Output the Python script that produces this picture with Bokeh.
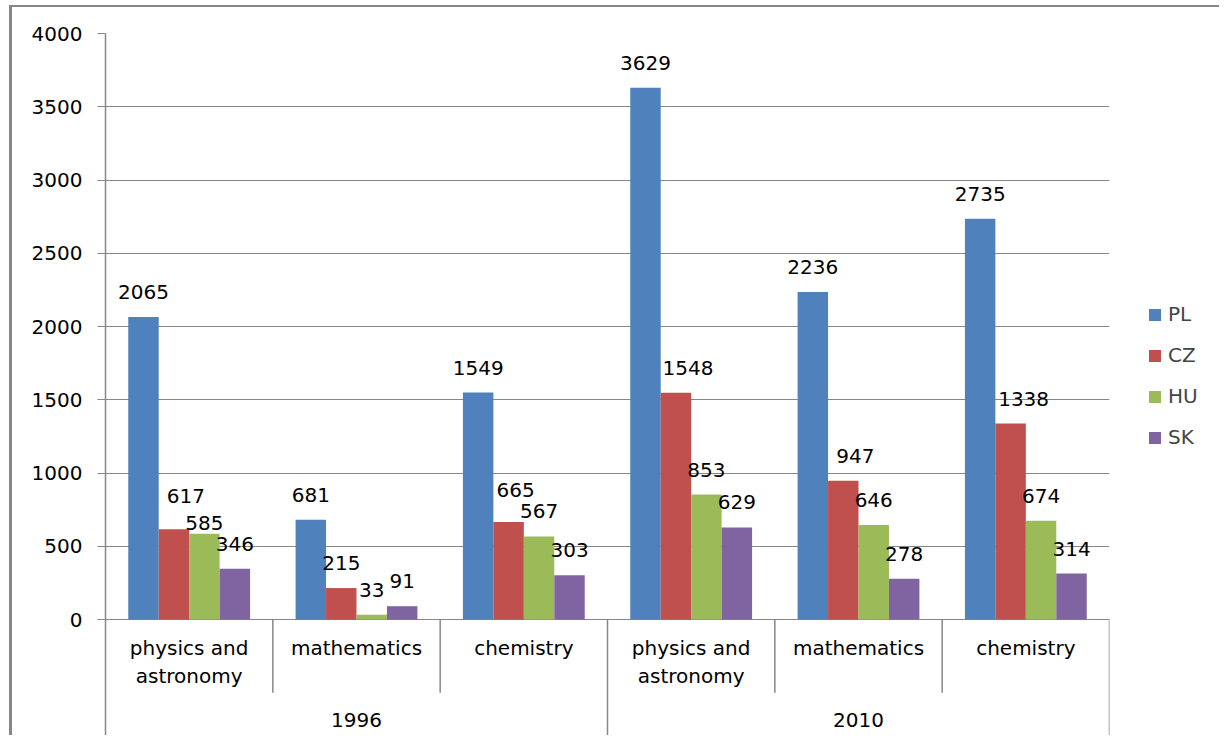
from bokeh.plotting import figure
from bokeh.layouts import row
from bokeh.models import (ColumnDataSource, FactorRange, Range1d, FixedTicker,
                          Legend, LegendItem)
from bokeh.transform import dodge
from bokeh.core.properties import value
from bokeh.embed import file_html
from bokeh.resources import INLINE

# ---------------- data ----------------
years = ["1996", "2010"]
subjects = ["physics and astronomy", "mathematics", "chemistry"]
subject_labels = ["physics and\nastronomy", "mathematics", "chemistry"]
countries = ["PL", "CZ", "HU", "SK"]
PL = [2065, 681, 1549, 3629, 2236, 2735]
CZ = [617, 215, 665, 1548, 947, 1338]
HU = [585, 33, 567, 853, 646, 674]
SK = [346, 91, 303, 629, 278, 314]
y_ticks = [0, 500, 1000, 1500, 2000, 2500, 3000, 3500, 4000]

# label nudges (screen px) reproducing the reference label placement
label_dx = {"PL": [0, 0, 0, 0, 0, 0], "CZ": [12, 0, 7, 12, 12, 13],
            "HU": [0, 0, 0, 0, 0, 0], "SK": [0, 0, 0, 0, 0, 0]}
label_dy = {"PL": [0, 0, 0, 0, 0, 0], "CZ": [-8, 0, -7, 0, 0, 0],
            "HU": [14, 0, 0, 0, 0, 0], "SK": [0, 0, 0, 0, 0, 0]}

colors = {"PL": "#4F81BD", "CZ": "#C0504D", "HU": "#9BBB59", "SK": "#8064A2"}
series = {"PL": PL, "CZ": CZ, "HU": HU, "SK": SK}
GRAY = "#878787"
FONT = "DejaVu Sans"
Y_MIN = -805

factors = [(y, s) for y in years for s in subjects]

p = figure(width=1110, height=730, output_backend="svg", toolbar_location=None,
           x_range=FactorRange(*factors, factor_padding=0, group_padding=0,
                               range_padding=0),
           y_range=Range1d(Y_MIN, 4000),
           min_border_left=93, min_border_right=13, min_border_top=26,
           min_border_bottom=0)
p.styles = {"margin-left": "9px", "margin-top": "5px",
            "border-left": f"3px solid {GRAY}", "border-top": f"2px solid {GRAY}"}
p.outline_line_color = None
p.xaxis.visible = False
p.xgrid.visible = False

p.yaxis.ticker = FixedTicker(ticks=y_ticks)
p.ygrid.ticker = FixedTicker(ticks=y_ticks)
p.ygrid.grid_line_color = GRAY
p.ygrid.grid_line_width = 1
p.yaxis.axis_line_color = GRAY
p.yaxis.axis_line_width = 1.5
p.yaxis.major_tick_line_color = GRAY
p.yaxis.major_tick_in = 0
p.yaxis.major_tick_out = 8
p.yaxis.minor_tick_line_color = None
p.yaxis.major_label_standoff = 15
p.yaxis.major_label_text_font = FONT
p.yaxis.major_label_text_font_size = "20px"
p.yaxis.major_label_text_color = "#000000"

bw = 0.182
offsets = [-1.5 * bw, -0.5 * bw, 0.5 * bw, 1.5 * bw]

for c, off in zip(countries, offsets):
    src = ColumnDataSource(dict(x=factors, top=series[c],
                                lbl=[str(v) for v in series[c]],
                                dx=label_dx[c], dy=[d - 25 for d in label_dy[c]]))
    p.vbar(x=dodge("x", off, range=p.x_range), top="top", width=bw,
           bottom=0, source=src, fill_color=colors[c], line_color=None)
    p.text(x=dodge("x", off, range=p.x_range), y="top", text="lbl",
           x_offset="dx", y_offset="dy", source=src,
           text_font=value(FONT), text_font_size="20px", text_color="#000000",
           text_align="center", text_baseline="alphabetic")

# category axis: subject labels, year labels and separators
sub_src = ColumnDataSource(dict(x=factors,
                                t=[subject_labels[subjects.index(s)] for _, s in factors],
                                y=[-110] * len(factors)))
p.text(x="x", y="y", text="t", source=sub_src, text_font=value(FONT),
       text_font_size="20px", text_color="#000000", text_align="center",
       text_baseline="top", text_line_height=1.2)
p.text(x=years, y=[-685] * len(years), text=years, text_font=value(FONT),
       text_font_size="20px", text_color="#000000", text_align="center",
       text_baseline="middle")

inner_x, outer_x = [], []
for i in range(1, len(factors) + 1):
    if i < len(factors) and factors[i][0] == factors[i - 1][0]:
        inner_x.append(i)
    else:
        outer_x.append(i)
p.segment(x0=inner_x, x1=inner_x, y0=[0] * len(inner_x), y1=[-500] * len(inner_x),
          line_color=GRAY, line_width=1.5)
p.segment(x0=outer_x, x1=outer_x, y0=[0] * len(outer_x), y1=[Y_MIN] * len(outer_x),
          line_color=GRAY, line_width=1.5)

# legend panel (separate small figure to the right of the plot area)
leg = figure(width=100, height=730, output_backend="svg", toolbar_location=None,
             x_axis_type=None, y_axis_type=None,
             x_range=Range1d(0, 1), y_range=Range1d(0, 1),
             min_border_left=0, min_border_right=0, min_border_top=0,
             min_border_bottom=0)
leg.styles = {"margin-top": "5px", "border-top": f"2px solid {GRAY}"}
leg.outline_line_color = None
leg.grid.visible = False
items = []
for c in countries:
    # off-range proxy bar: only its legend swatch is visible
    r = leg.vbar(x=[5], top=[6], bottom=[5], width=0.1,
                 fill_color=colors[c], line_color=None)
    items.append(LegendItem(label=c, renderers=[r]))
legend = Legend(items=items, location=(28, 288), margin=0, padding=10,
                glyph_width=15, glyph_height=15, label_height=20, spacing=17,
                label_standoff=6, label_text_font=FONT,
                label_text_font_size="20px", border_line_color=None,
                background_fill_alpha=0)
leg.add_layout(legend, "center")

layout = row(p, leg)
open("out.html", "w").write(file_html(layout, INLINE))
